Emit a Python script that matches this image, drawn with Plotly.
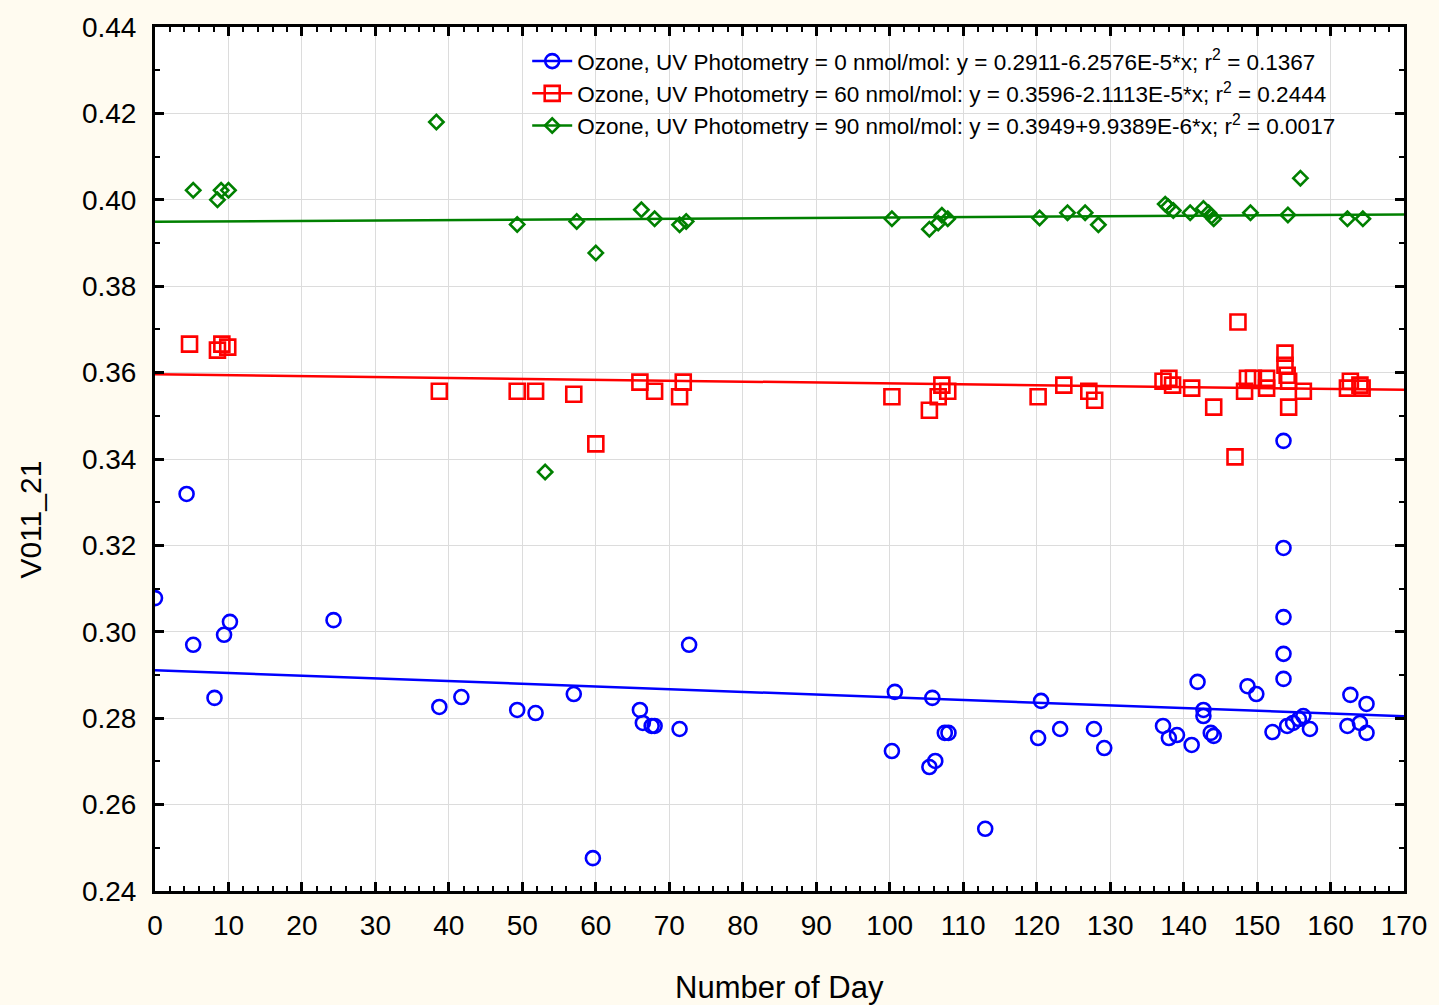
import plotly.graph_objects as go

# ---- data ----
x_0 = [0, 4.3, 5.2, 8.1, 9.4, 10.2, 24.3, 38.7, 41.7, 49.3, 51.8, 57.0, 59.6, 66.0, 66.4, 67.6, 68.0,
       71.4, 72.7, 100.3, 100.7, 105.4, 105.8, 106.2, 107.5, 108.0, 113.0, 120.2, 120.6, 123.2,
       127.8, 129.2, 137.2, 138.0, 139.1, 141.1, 141.9, 142.7, 142.7, 143.7, 144.1, 148.7, 149.9,
       152.1, 153.6, 153.6, 153.6, 153.6, 153.6, 154.1, 154.9, 155.7, 156.3, 157.2, 162.3, 162.7,
       164.0, 164.9, 164.9]
y_0 = [0.3078, 0.3319, 0.2970, 0.2847, 0.2993, 0.3023, 0.3027, 0.2826, 0.2849, 0.2819, 0.2812,
       0.2856, 0.2476, 0.2819, 0.2789, 0.2782, 0.2782, 0.2775, 0.2970, 0.2724, 0.2861, 0.2687,
       0.2847, 0.2701, 0.2766, 0.2766, 0.2544, 0.2754, 0.2840, 0.2775, 0.2775, 0.2731, 0.2782,
       0.2754, 0.2761, 0.2738, 0.2884, 0.2819, 0.2805, 0.2766, 0.2759, 0.2874, 0.2856, 0.2768,
       0.3442, 0.3194, 0.3034, 0.2949, 0.2891, 0.2782, 0.2789, 0.2798, 0.2805, 0.2775, 0.2782,
       0.2854, 0.2789, 0.2766, 0.2833]

x_60 = [4.7, 8.5, 9.1, 9.9, 38.7, 49.3, 51.8, 57.0, 60.0, 66.0, 68.0, 71.4, 71.9, 100.3, 105.4,
        106.6, 107.1, 107.9, 120.2, 123.7, 127.1, 127.9, 137.2, 138.0, 138.5, 141.1, 144.1, 147.0,
        147.4, 148.3, 148.7, 149.5, 151.3, 151.3, 153.8, 153.8, 154.1, 154.3, 154.3, 156.3, 162.3,
        162.7, 164.0, 164.3]
y_60 = [0.3666, 0.3652, 0.3666, 0.3659, 0.3557, 0.3557, 0.3557, 0.3550, 0.3435, 0.3578, 0.3557,
        0.3544, 0.3578, 0.3544, 0.3513, 0.3544, 0.3571, 0.3557, 0.3544, 0.3571, 0.3557, 0.3536,
        0.3580, 0.3587, 0.3571, 0.3564, 0.3520, 0.3405, 0.3717, 0.3557, 0.3587, 0.3587, 0.3587,
        0.3564, 0.3645, 0.3617, 0.3594, 0.3580, 0.3520, 0.3557, 0.3564, 0.3580, 0.3571, 0.3564]

x_90 = [5.2, 8.5, 9.0, 10.0, 38.3, 49.3, 53.1, 57.4, 60.0, 66.2, 68.0, 71.4, 72.3, 100.3, 105.4,
        106.6, 107.1, 107.9, 120.4, 124.2, 126.6, 128.4, 137.5, 137.9, 138.6, 140.9, 142.7, 143.4,
        143.8, 144.1, 149.1, 154.2, 155.9, 162.3, 164.4]
y_90 = [0.4022, 0.4000, 0.4022, 0.4022, 0.4180, 0.3943, 0.3370, 0.3950, 0.3877, 0.3977, 0.3956,
        0.3942, 0.3950, 0.3956, 0.3932, 0.3946, 0.3964, 0.3956, 0.3958, 0.3970, 0.3970, 0.3942,
        0.3990, 0.3984, 0.3975, 0.3970, 0.3980, 0.3970, 0.3962, 0.3956, 0.3970, 0.3965, 0.4050,
        0.3956, 0.3956]

intercepts = [0.2911, 0.3596, 0.3949]
slopes = [-6.2576e-5, -2.1113e-5, 9.9389e-6]
legend_names = [
    "Ozone, UV Photometry = 0 nmol/mol: y = 0.2911-6.2576E-5*x; r<sup>2</sup> = 0.1367",
    "Ozone, UV Photometry = 60 nmol/mol: y = 0.3596-2.1113E-5*x; r<sup>2</sup> = 0.2444",
    "Ozone, UV Photometry = 90 nmol/mol: y = 0.3949+9.9389E-6*x; r<sup>2</sup> = 0.0017",
]
x_ticks = list(range(0, 171, 10))
y_ticks = [0.24, 0.26, 0.28, 0.30, 0.32, 0.34, 0.36, 0.38, 0.40, 0.42, 0.44]
x_range = [0, 170]

colors = ["#0000FF", "#FF0000", "#008000"]
symbols = ["circle-open", "square-open", "diamond-open"]
sizes = [14, 15, 11]
xs = [x_0, x_60, x_90]
ys = [y_0, y_60, y_90]

fig = go.Figure()
for i in range(3):
    # regression line
    fig.add_trace(go.Scatter(
        x=x_range, y=[intercepts[i] + slopes[i] * v for v in x_range],
        mode="lines", line=dict(color=colors[i], width=2.5),
        showlegend=False, hoverinfo="skip"))
    # data points
    fig.add_trace(go.Scatter(
        x=xs[i], y=ys[i], mode="markers",
        marker=dict(symbol=symbols[i], size=sizes[i], color=colors[i],
                    line=dict(color=colors[i], width=2.6)),
        showlegend=False))
# legend entries (marker + line)
for i in range(3):
    fig.add_trace(go.Scatter(
        x=[None], y=[None], mode="markers+lines",
        line=dict(color=colors[i], width=2.5),
        marker=dict(symbol=symbols[i], size=sizes[i], color=colors[i],
                    line=dict(color=colors[i], width=2.6)),
        name=legend_names[i]))

font_family = "Liberation Sans, Arial, sans-serif"
axis_common = dict(
    showline=True, linecolor="black", linewidth=3, mirror="ticks",
    ticks="inside", ticklen=9, tickwidth=2.5, tickcolor="black",
    showgrid=True, gridcolor="#DCDCDC", gridwidth=1, zeroline=False,
    tickfont=dict(family=font_family, size=28, color="black"),
)

fig.update_layout(
    width=1439, height=1005,
    paper_bgcolor="#FFFBF0", plot_bgcolor="white",
    margin=dict(l=155, r=29, t=27, b=114),
    font=dict(family=font_family, color="black"),
    xaxis=dict(range=[0, 170], tickvals=x_ticks, ticktext=[str(v) for v in x_ticks],
               minor=dict(ticks="inside", ticklen=5, tickwidth=2, tickcolor="black",
                          dtick=2, showgrid=False),
               ticklabelstandoff=7, **axis_common),
    yaxis=dict(range=[0.24, 0.44], tickvals=y_ticks, ticktext=[f"{v:.2f}" for v in y_ticks],
               minor=dict(ticks="inside", ticklen=5, tickwidth=2, tickcolor="black",
                          dtick=0.01, showgrid=False),
               ticklabelstandoff=10, **axis_common),
    legend=dict(x=0.298, y=0.985, xanchor="left", yanchor="top",
                bgcolor="rgba(0,0,0,0)", borderwidth=0,
                font=dict(family=font_family, size=22.5, color="black"),
                tracegroupgap=0, itemwidth=40),
    showlegend=True,
    annotations=[
        dict(text="Number of Day", xref="paper", yref="paper", x=0.5, y=-0.112,
             xanchor="center", yanchor="middle", showarrow=False,
             font=dict(family=font_family, size=31, color="black")),
        dict(text="V011_21", xref="paper", yref="paper", x=-0.1, y=0.43,
             xanchor="center", yanchor="middle", textangle=-90, showarrow=False,
             font=dict(family=font_family, size=30, color="black")),
    ],
)

fig.write_html("out.html", config={"displayModeBar": False},
               post_script="document.body.style.margin='0';document.body.style.overflow='hidden';")
